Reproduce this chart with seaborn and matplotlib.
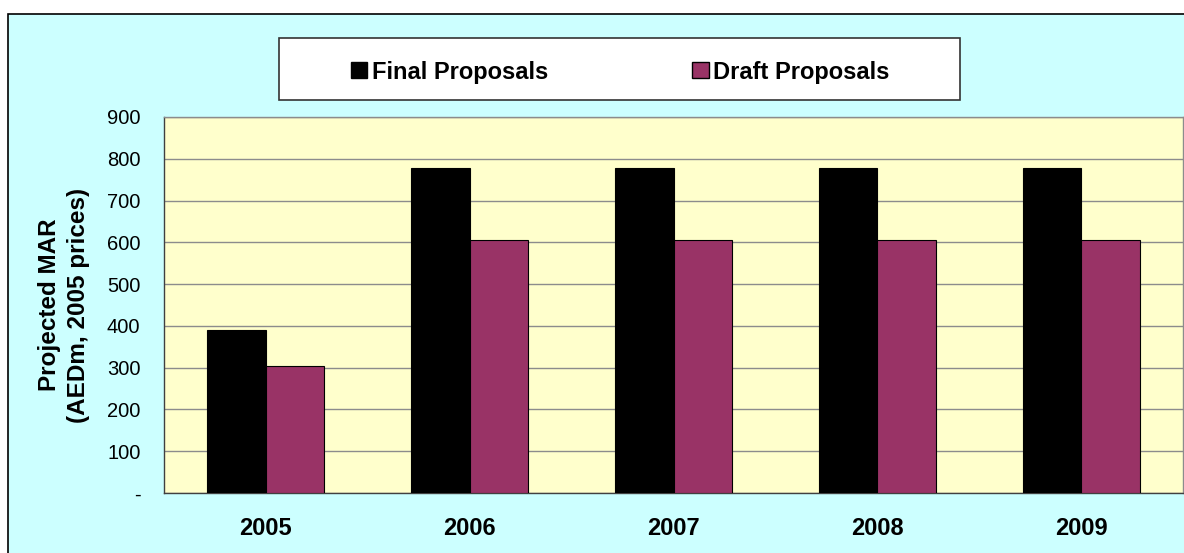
import pandas as pd
import numpy as np
import matplotlib
matplotlib.use('Agg')
import matplotlib.pyplot as plt
from matplotlib.patches import Rectangle
import seaborn as sns

years = ['2005', '2006', '2007', '2008', '2009']
final_proposals = [390, 777, 777, 777, 777]
draft_proposals = [304, 606, 606, 606, 606]
series_names = ['Final Proposals', 'Draft Proposals']
yticks = [0, 100, 200, 300, 400, 500, 600, 700, 800, 900]
ytick_labels = ['-', '100', '200', '300', '400', '500', '600', '700', '800', '900']

df = pd.DataFrame({
    'year': years * 2,
    'value': final_proposals + draft_proposals,
    'series': [series_names[0]] * len(years) + [series_names[1]] * len(years),
})

sns.set_style('white')
plt.rcParams['font.family'] = ['Liberation Sans', 'DejaVu Sans']
plt.rcParams['text.color'] = 'black'
plt.rcParams['xtick.color'] = 'black'
plt.rcParams['ytick.color'] = 'black'
plt.rcParams['axes.labelcolor'] = 'black'

fig = plt.figure(figsize=(11.84, 5.53), dpi=100, facecolor='white')
# outer chart area (cyan with black border, cut off at right/bottom)
fig.patches.append(Rectangle((8 / 1184, -0.2), 1.2, 0.2 + 1 - 14 / 553, transform=fig.transFigure,
                             facecolor='#CCFFFF', edgecolor='black', linewidth=1.2, zorder=-5))

ax = fig.add_axes([164 / 1184, 60 / 553, 1019 / 1184, 376 / 553])
ax.set_facecolor('#FFFFCC')

sns.barplot(data=df, x='year', y='value', hue='series', palette=['#000000', '#993366'],
            saturation=1, width=0.575, edgecolor='black', linewidth=0.8, ax=ax,
            legend=False, zorder=3)

ax.set_ylim(0, 900)
ax.set_yticks(yticks)
ax.set_yticklabels(ytick_labels, fontsize=14.5)
ax.yaxis.grid(True, color='#8c8c8c', linewidth=1, zorder=0)
ax.set_axisbelow(True)
ax.set_xlim(-0.5, len(years) - 0.5)
ax.set_xticks(np.arange(-0.5, len(years), 1.0), minor=False)
ax.set_xticklabels([])
ax.set_xticks(range(len(years)), minor=True)
ax.set_xticklabels(years, minor=True, fontsize=17, fontweight='bold')
ax.tick_params(axis='x', which='major', direction='out', length=6, color='#404040', width=1)
ax.tick_params(axis='x', which='minor', length=0, pad=17)
ax.tick_params(axis='y', direction='out', length=5, color='#404040', width=1, pad=12)
ax.set_xlabel('')
ax.set_ylabel('Projected MAR\n(AEDm, 2005 prices)', fontsize=17.5, fontweight='bold',
              labelpad=12, linespacing=1.35)

for side in ['left', 'bottom']:
    ax.spines[side].set_color('#404040')
    ax.spines[side].set_linewidth(1)
for side in ['top', 'right']:
    ax.spines[side].set_color('#8c8c8c')
    ax.spines[side].set_linewidth(1)

# legend box
lx, ly, lw, lh = 279 / 1184, 1 - 100 / 553, 681 / 1184, 62 / 553
fig.patches.append(Rectangle((lx, ly), lw, lh, transform=fig.transFigure,
                             facecolor='white', edgecolor='#333333', linewidth=1.2, zorder=1))
handles = [Rectangle((0, 0), 1, 1, facecolor=c, edgecolor='black', linewidth=1)
           for c in ['#000000', '#993366']]
leg = fig.legend(handles, series_names, loc='center',
                 bbox_to_anchor=(lx + lw / 2 + 1 / 1184, ly + lh / 2 - 3 / 553),
                 ncol=2, frameon=False, prop={'size': 17, 'weight': 'bold'},
                 handlelength=0.68, handleheight=0.68, handletextpad=0.2, columnspacing=6.1)

fig.savefig('out.png', dpi=100, facecolor=fig.get_facecolor())
